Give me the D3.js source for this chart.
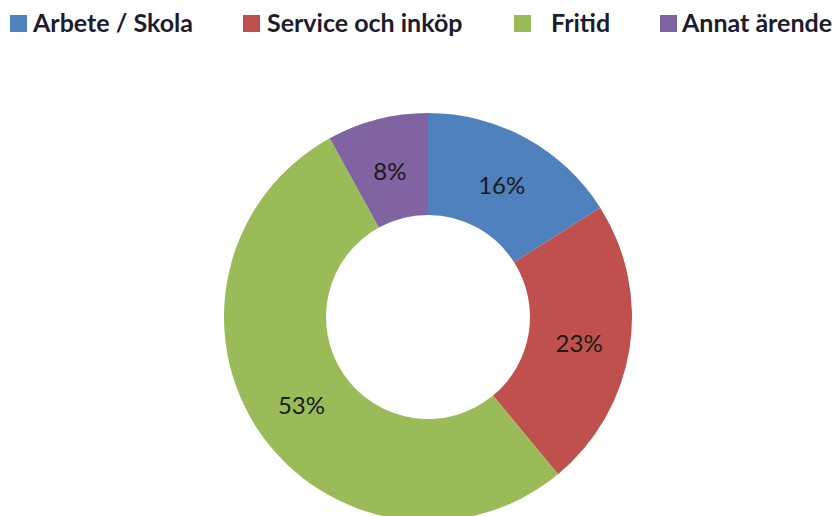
<!DOCTYPE html>
<html>
<head>
<meta charset="utf-8">
<script src="https://cdn.jsdelivr.net/npm/d3@7"></script>
<style>
  body { margin: 0; background: #fff; }
  svg { display: block; font-family: Lato, "Open Sans", sans-serif; }
</style>
</head>
<body>
<div id="chart"></div>
<script>
// Data
var categories = ['Arbete / Skola', 'Service och inköp', 'Fritid', 'Annat ärende'];
var values = [16, 23, 53, 8];
var colours = ['#4f81bd', '#c0504d', '#9bbb59', '#8064a2'];
var legendX = [10, 243, 514, 660]; // legend entry starts
var legendGap = [6, 7, 20, 5];     // square to text

var w = 840, h = 516,
    cx = 428, cy = 317,
    outerR = 204, innerR = 102;

var svg = d3.select('#chart').append('svg').attr('width', w).attr('height', h);

var data = categories.map(function(c, i) { return {name: c, value: values[i], colour: colours[i]}; });

var pie = d3.pie().sort(null).value(function(d) { return d.value; });
var arc = d3.arc().innerRadius(innerR).outerRadius(outerR);
var labelArc = d3.arc().innerRadius(153).outerRadius(153);

var g = svg.append('g').attr('transform', 'translate(' + cx + ',' + cy + ')');

g.selectAll('path').data(pie(data)).enter().append('path')
  .attr('d', arc)
  .attr('fill', function(d) { return d.data.colour; });

g.selectAll('text').data(pie(data)).enter().append('text')
  .attr('transform', function(d) { return 'translate(' + labelArc.centroid(d) + ')'; })
  .attr('text-anchor', 'middle')
  .attr('dy', '0.45em')
  .style('font-size', '24px')
  .style('fill', '#1a1a1a')
  .text(function(d) { return d.data.value + '%'; });

// Legend
var leg = svg.selectAll('.legend').data(data).enter().append('g').attr('class', 'legend')
  .attr('transform', function(d, i) { return 'translate(' + legendX[i] + ',15)'; });

leg.append('rect').attr('width', 17).attr('height', 17)
  .attr('fill', function(d) { return d.colour; });

leg.append('text')
  .attr('x', function(d, i) { return 17 + legendGap[i]; })
  .attr('y', 17)
  .style('font-size', '25px')
  .style('font-weight', 'bold')
  .style('fill', '#1c1c2e')
  .text(function(d) { return d.name; });
</script>
</body>
</html>
